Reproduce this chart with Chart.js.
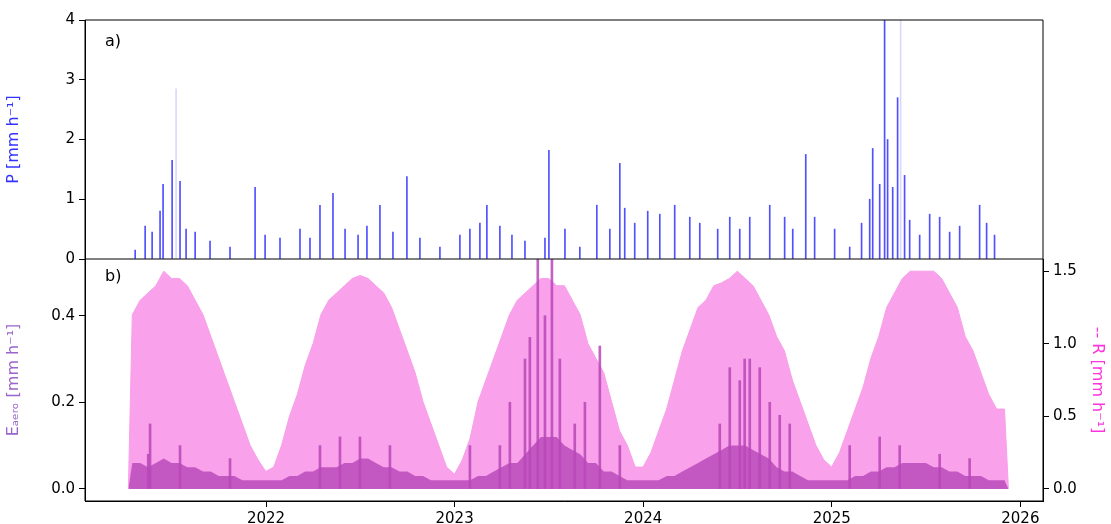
<!DOCTYPE html>
<html><head><meta charset="utf-8">
<script src="https://cdn.jsdelivr.net/npm/chart.js@4/dist/chart.umd.min.js"></script>
<style>
body{margin:0;background:#fff;width:1111px;height:524px;overflow:hidden;font-family:"DejaVu Sans"}
#a{position:absolute;left:0;top:0;width:1111px;height:272px}
#b{position:absolute;left:0;top:246px;width:1111px;height:285px}
</style></head><body>
<div id="a"><canvas id="ca"></canvas></div>
<div id="b"><canvas id="cb"></canvas></div>
<script>
// Precipitation spikes (decimal year, mm/h)
const pYears=[2021.306,2021.359,2021.396,2021.438,2021.454,2021.502,2021.544,2021.576,2021.624,2021.703,2021.809,2021.942,2021.995,2022.074,2022.180,2022.233,2022.286,2022.355,2022.419,2022.488,2022.535,2022.604,2022.673,2022.747,2022.816,2022.922,2023.028,2023.081,2023.134,2023.171,2023.240,2023.304,2023.373,2023.479,2023.500,2023.585,2023.664,2023.754,2023.823,2023.876,2023.902,2023.955,2024.024,2024.088,2024.167,2024.247,2024.300,2024.395,2024.459,2024.512,2024.565,2024.671,2024.750,2024.793,2024.862,2024.909,2025.015,2025.095,2025.158,2025.201,2025.217,2025.254,2025.280,2025.296,2025.323,2025.349,2025.386,2025.413,2025.466,2025.519,2025.572,2025.625,2025.678,2025.784,2025.821,2025.863];
const pValues=[0.15,0.55,0.45,0.8,1.25,1.65,1.3,0.5,0.45,0.3,0.2,1.2,0.4,0.35,0.5,0.35,0.9,1.1,0.5,0.4,0.55,0.9,0.45,1.38,0.35,0.2,0.4,0.5,0.6,0.9,0.55,0.4,0.3,0.35,1.82,0.5,0.2,0.9,0.5,1.6,0.85,0.6,0.8,0.75,0.9,0.7,0.6,0.5,0.7,0.5,0.7,0.9,0.7,0.5,1.75,0.7,0.5,0.2,0.6,1.0,1.85,1.25,4.0,2.0,1.2,2.7,1.4,0.65,0.4,0.75,0.7,0.45,0.55,0.9,0.6,0.4];
const pFaintYears=[2021.523,2025.365];
const pFaintValues=[2.85,4.0];
// R envelope, half-monthly from rStart
const rStart=2021.27, rStep=1/24;
const rValues=[1.2,1.3,1.35,1.4,1.5,1.45,1.45,1.4,1.3,1.2,1.05,0.9,0.75,0.6,0.45,0.3,0.2,0.12,
0.15,0.3,0.5,0.65,0.85,1.0,1.2,1.3,1.35,1.4,1.45,1.47,1.45,1.4,1.35,1.25,1.1,0.95,0.8,0.6,0.45,0.3,0.15,0.1,
0.2,0.35,0.6,0.75,0.9,1.05,1.2,1.3,1.35,1.4,1.45,1.45,1.4,1.4,1.3,1.2,1.0,0.9,0.8,0.6,0.4,0.3,0.15,0.15,
0.25,0.4,0.55,0.75,0.95,1.1,1.25,1.3,1.4,1.42,1.45,1.5,1.45,1.4,1.3,1.2,1.05,0.95,0.75,0.6,0.45,0.3,0.2,0.15,
0.25,0.4,0.55,0.7,0.9,1.05,1.25,1.35,1.45,1.5,1.5,1.5,1.5,1.45,1.35,1.25,1.05,0.95,0.8,0.65,0.55,0.55];
const eBase=[0.06,0.06,0.05,0.06,0.07,0.06,0.06,0.05,0.05,0.04,0.04,0.03,0.03,0.03,0.02,0.02,0.02,0.02,
0.02,0.02,0.03,0.03,0.04,0.04,0.05,0.05,0.05,0.06,0.06,0.07,0.07,0.06,0.05,0.05,0.04,0.04,0.03,0.03,0.02,0.02,0.02,0.02,
0.02,0.02,0.03,0.03,0.04,0.05,0.06,0.06,0.08,0.1,0.12,0.12,0.12,0.1,0.09,0.08,0.06,0.06,0.04,0.04,0.03,0.02,0.02,0.02,
0.02,0.02,0.03,0.03,0.04,0.05,0.06,0.07,0.08,0.09,0.1,0.1,0.1,0.09,0.08,0.07,0.05,0.04,0.04,0.03,0.02,0.02,0.02,0.02,
0.02,0.02,0.03,0.03,0.04,0.04,0.05,0.05,0.06,0.06,0.06,0.06,0.05,0.05,0.04,0.04,0.03,0.03,0.03,0.02,0.02,0.02];
const eSpikeYears=[2021.375,2021.385,2021.544,2021.809,2022.286,2022.392,2022.498,2022.657,2023.081,2023.240,2023.293,2023.373,2023.399,2023.441,2023.479,2023.516,2023.558,2023.637,2023.691,2023.770,2023.876,2024.406,2024.459,2024.512,2024.538,2024.565,2024.618,2024.671,2024.724,2024.777,2025.095,2025.254,2025.360,2025.572,2025.731];
const eSpikeValues=[0.08,0.15,0.1,0.07,0.1,0.12,0.12,0.1,0.1,0.1,0.2,0.3,0.35,0.53,0.4,0.53,0.3,0.15,0.2,0.33,0.1,0.15,0.28,0.25,0.3,0.3,0.28,0.2,0.17,0.15,0.1,0.12,0.1,0.08,0.07];
const xTicks=[2022,2023,2024,2025,2026];

const pts=(xs,ys)=>xs.map((x,i)=>({x,y:ys[i]}));
const stepPts=(vals)=>{const a=vals.map((v,i)=>({x:rStart+(i+0.5)*rStep,y:v}));a.unshift({x:rStart,y:0});a.push({x:rStart+vals.length*rStep,y:0});return a;};
const F="'DejaVu Sans'";
Chart.defaults.font.family=F; Chart.defaults.font.size=15; Chart.defaults.color='#000';
Chart.defaults.animation=false;
const frame={id:'frame',afterDraw(c,a,o){const{ctx,chartArea:ca}=c;ctx.save();ctx.strokeStyle='#000';ctx.lineWidth=1;
 ctx.beginPath();ctx.moveTo(ca.left,ca.bottom);ctx.lineTo(ca.left,ca.top);ctx.lineTo(ca.right,ca.top);ctx.lineTo(ca.right,ca.bottom);
 if(o.bottom){ctx.lineTo(ca.left,ca.bottom);} ctx.stroke();
 ctx.fillStyle='#000';ctx.font="16px "+F;ctx.fillText(o.label,ca.left+20,ca.top+(o.bottom?22:26));ctx.restore();}};
const xScale=(show)=>({type:'linear',min:2021.04,max:2026.12,display:show,offset:false,
 afterBuildTicks:s=>{s.ticks=xTicks.map(v=>({value:v}));},
 ticks:{callback:v=>String(v),maxRotation:0,padding:3},
 grid:{offset:false,drawOnChartArea:false,tickLength:6,color:'#000'},border:{color:'#000'}});

new Chart(document.getElementById('ca'),{type:'bar',
 data:{datasets:[
  {data:pts(pFaintYears,pFaintValues),backgroundColor:'rgba(170,170,255,0.45)',barThickness:1,grouped:false},
  {data:pts(pYears,pValues),backgroundColor:'#5050ff',barThickness:1,grouped:false}]},
 options:{responsive:true,maintainAspectRatio:false,layout:{padding:{top:20,right:68,bottom:0,left:0}},
  plugins:{legend:{display:false},tooltip:{enabled:false},frame:{label:'a)',bottom:false}},
  scales:{x:xScale(false),
   y:{min:0,max:4,ticks:{stepSize:1,padding:4},afterFit:s=>{s.width=85;},
    grid:{drawOnChartArea:false,tickLength:6,color:'#000'},border:{color:'#000'},
    title:{display:true,text:'P [mm h⁻¹]',color:'#3333ff',font:{size:16}}}}},
 plugins:[frame]});

new Chart(document.getElementById('cb'),{type:'line',
 data:{datasets:[
  {type:'bar',data:pts(eSpikeYears,eSpikeValues),yAxisID:'y',backgroundColor:'rgba(185,70,185,0.85)',barThickness:2,grouped:false,order:0},
  {data:stepPts(eBase),yAxisID:'y',fill:'origin',backgroundColor:'rgba(190,80,190,0.9)',borderWidth:0,pointRadius:0,order:1},
  {data:stepPts(rValues),yAxisID:'y2',fill:'origin',backgroundColor:'#f9a2eb',borderColor:'#f7a0ea',borderWidth:1,pointRadius:0,order:2}]},
 options:{responsive:true,maintainAspectRatio:false,layout:{padding:{top:0,right:0,bottom:0,left:0}},
  plugins:{legend:{display:false},tooltip:{enabled:false},frame:{label:'b)',bottom:true}},
  scales:{x:xScale(true),
   y:{position:'left',min:-0.028,max:0.531,afterBuildTicks:s=>{s.ticks=[0,0.2,0.4].map(v=>({value:v}));},
    ticks:{callback:v=>v.toFixed(1),padding:4},afterFit:s=>{s.width=85;},
    grid:{drawOnChartArea:false,tickLength:6,color:'#000'},border:{color:'#000'},
    title:{display:true,text:'Eₐₑᵣₒ [mm h⁻¹]',color:'#9966cc',font:{size:16}}},
   y2:{position:'right',min:-0.084,max:1.584,afterBuildTicks:s=>{s.ticks=[0,0.5,1,1.5].map(v=>({value:v}));},
    ticks:{callback:v=>v.toFixed(1),padding:4},afterFit:s=>{s.width=68;},
    grid:{drawOnChartArea:false,tickLength:6,color:'#000'},border:{color:'#000'},
    title:{display:true,text:'-- R [mm h⁻¹]',color:'#ff33dd',font:{size:16}}}}},
 plugins:[frame]});
</script></body></html>
